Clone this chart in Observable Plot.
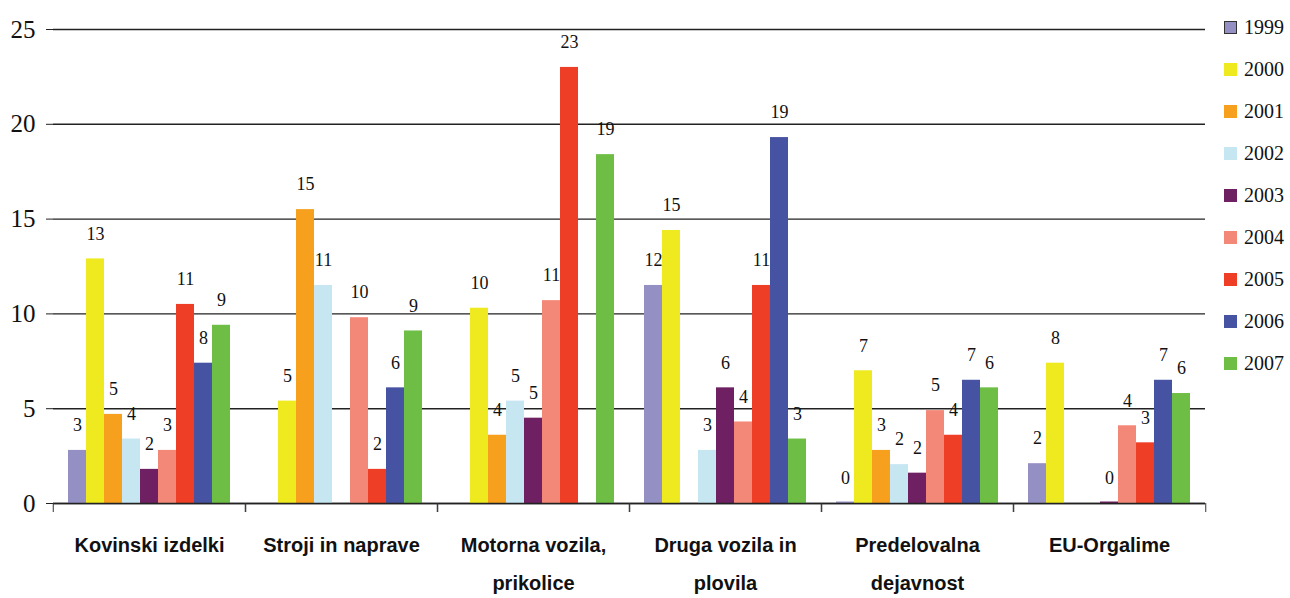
<!DOCTYPE html>
<html>
<head>
<meta charset="utf-8">
<script src="https://cdn.jsdelivr.net/npm/d3@7"></script>
<script src="https://cdn.jsdelivr.net/npm/@observablehq/plot@0.6"></script>
<style>
  html, body { margin: 0; padding: 0; background: #fff; }
  #wrap { position: relative; width: 1290px; height: 598px; overflow: hidden; }
  #legend { position: absolute; left: 1224px; top: 6px; font-family: "Liberation Serif", "Times New Roman", serif; font-size: 20px; color: #111; }
  .item { display: flex; align-items: center; height: 42px; }
  .sw { width: 13px; height: 13px; margin-right: 7px; box-sizing: border-box; }
</style>
</head>
<body>
<div id="wrap"><div id="legend"></div></div>
<script>
const groups = ["Kovinski izdelki", "Stroji in naprave", "Motorna vozila,\nprikolice", "Druga vozila in\nplovila", "Predelovalna\ndejavnost", "EU-Orgalime"];
const years = ["1999", "2000", "2001", "2002", "2003", "2004", "2005", "2006", "2007"];
const colors = ["#9590C4", "#EEEA1F", "#F6A01D", "#C6E6F2", "#6E2063", "#F48878", "#EE3F26", "#4653A2", "#6EBE45"];

// bar heights per year, across the six groups (null = no bar)
const v1999 = [2.8, null, null, 11.5, 0, 2.1];
const v2000 = [12.9, 5.4, 10.3, 14.4, 7.0, 7.4];
const v2001 = [4.7, 15.5, 3.6, null, 2.8, null];
const v2002 = [3.4, 11.5, 5.4, 2.8, 2.05, null];
const v2003 = [1.8, null, 4.5, 6.1, 1.6, 0];
const v2004 = [2.8, 9.8, 10.7, 4.3, 4.9, 4.1];
const v2005 = [10.5, 1.8, 23.0, 11.5, 3.6, 3.2];
const v2006 = [7.4, 6.1, null, 19.3, 6.5, 6.5];
const v2007 = [9.4, 9.1, 18.4, 3.4, 6.1, 5.8];

// printed data labels
const l1999 = [3, null, null, 12, 0, 2];
const l2000 = [13, 5, 10, 15, 7, 8];
const l2001 = [5, 15, 4, null, 3, null];
const l2002 = [4, 11, 5, 3, 2, null];
const l2003 = [2, null, 5, 6, 2, 0];
const l2004 = [3, 10, 11, 4, 5, 4];
const l2005 = [11, 2, 23, 11, 4, 3];
const l2006 = [8, 6, null, 19, 7, 7];
const l2007 = [9, 9, 19, 3, 6, 6];

const yTicks = [0, 5, 10, 15, 20, 25];

const valueSeries = [v1999, v2000, v2001, v2002, v2003, v2004, v2005, v2006, v2007];
const labelSeries = [l1999, l2000, l2001, l2002, l2003, l2004, l2005, l2006, l2007];

const data = [];
years.forEach((yr, i) => {
  groups.forEach((g, j) => {
    const v = valueSeries[i][j];
    if (v != null) data.push({group: g, year: yr, value: v, label: labelSeries[i][j]});
  });
});

const W = 1290, H = 598, mL = 51, mR = 84;
const half = (W - mL - mR) / groups.length / 2;
const serif = "Liberation Serif, Times New Roman, serif";
const sans = "Liberation Sans, Arial, sans-serif";

const chart = Plot.plot({
  width: W,
  height: H,
  marginLeft: mL,
  marginRight: mR,
  marginTop: 29,
  marginBottom: 95,
  fx: {domain: groups, padding: 0, axis: null},
  x: {domain: years, paddingInner: 0, paddingOuter: 0.75, axis: null},
  y: {domain: [0, 25], axis: null},
  color: {domain: years, range: colors},
  marks: [
    Plot.gridY(yTicks, {stroke: "#222", strokeOpacity: 1, strokeWidth: 1.4}),
    Plot.axisY(yTicks, {tickSize: 7, tickPadding: 11, fontSize: 25, fontFamily: serif, stroke: "#222", fill: "#111", label: null}),
    Plot.barY(data, {fx: "group", x: "year", y: "value", fill: "year"}),
    Plot.barY(data.filter(d => d.value === 0), {fx: "group", x: "year", y: "value", fill: "year", insetTop: -1.5}),
    Plot.ruleY([0], {stroke: "#222", strokeWidth: 1.6}),
    Plot.text(data, {fx: "group", x: "year", y: "value", text: "label", dy: -25, fontSize: 18, fontFamily: serif, fill: "#111", lineAnchor: "middle"}),
    Plot.axisFx({anchor: "bottom", tickSize: 0, tickPadding: 22, fontSize: 20, fontWeight: "bold", fontFamily: sans, lineHeight: 1.9, fill: "#111", label: null}),
    Plot.axisFx({anchor: "bottom", tickSize: 9, dx: half, tickFormat: () => "", stroke: "#333", label: null}),
    Plot.axisFx({anchor: "bottom", tickSize: 9, dx: -half, tickFormat: () => "", stroke: "#333", label: null})
  ]
});

document.getElementById("wrap").prepend(chart);

const legend = document.getElementById("legend");
years.forEach((yr, i) => {
  const item = document.createElement("div");
  item.className = "item";
  const sw = document.createElement("div");
  sw.className = "sw";
  sw.style.background = colors[i];
  if (i === 0) sw.style.border = "1px solid #333";
  const t = document.createElement("span");
  t.textContent = yr;
  item.appendChild(sw);
  item.appendChild(t);
  legend.appendChild(item);
});
</script>
</body>
</html>
